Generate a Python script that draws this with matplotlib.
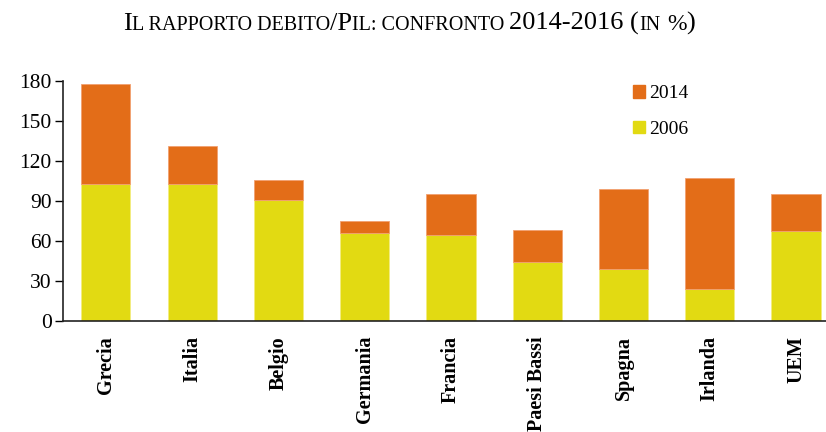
import matplotlib
matplotlib.use("Agg")
import matplotlib.pyplot as plt
from matplotlib.patches import Patch

countries = ["Grecia", "Italia", "Belgio", "Germania", "Francia", "Paesi Bassi", "Spagna", "Irlanda", "UEM"]
debt_2006 = [103, 102.5, 91, 66, 64, 44, 38.5, 23.5, 67.5]
debt_2014 = [178, 131.5, 106, 75, 95.5, 68, 99, 107, 95.5]
yticks = [0, 30, 60, 90, 120, 150, 180]

c2014 = "#E36D18"
c2006 = "#E2DA12"
serif = "Liberation Serif"

fig = plt.figure(figsize=(8.26, 4.32), dpi=100)
ax = fig.add_axes([0.0759, 0.2576, 0.94, 0.555])

x = list(range(len(countries)))
top_part = [t - b for t, b in zip(debt_2014, debt_2006)]
ax.bar(x, debt_2006, width=0.57, color=c2006, edgecolor="#F3EC80", linewidth=0.6, zorder=2)
ax.bar(x, top_part, bottom=debt_2006, width=0.57, color=c2014, edgecolor="#F2A070", linewidth=0.6, zorder=2)

ax.set_xlim(-0.5, len(countries) - 0.5)
ax.set_ylim(0, 180)
ax.set_yticks(yticks)
ax.set_yticklabels([str(v) for v in yticks], fontfamily=serif, fontsize=15.5)
ax.set_xticks(x)
ax.set_xticklabels(countries, rotation=90, fontfamily=serif, fontsize=14.5, fontweight="bold", va="top")
ax.tick_params(axis="x", length=0, pad=11)
ax.tick_params(axis="y", length=6, width=1.0, pad=2, direction="out")
for s in ["top", "right"]:
    ax.spines[s].set_visible(False)
for s in ["left", "bottom"]:
    ax.spines[s].set_linewidth(1.2)
    ax.spines[s].set_color("#222222")

handles = [Patch(facecolor=c2014, edgecolor=c2014), Patch(facecolor=c2006, edgecolor=c2006)]
fig.legend(handles, ["2014", "2006"], loc="upper left", bbox_to_anchor=(0.745, 0.843),
           frameon=False, prop={"family": serif, "size": 14}, handlelength=0.6, handleheight=0.6,
           handletextpad=0.25, labelspacing=0.96)

# Small-caps title
segments = [("I", 19), ("L RAPPORTO DEBITO", 14.5), ("/P", 19), ("IL: CONFRONTO ", 14.5),
            ("2014-2016 (", 19), ("IN", 14.5), (" ", 19), ("%", 17), (")", 19)]
renderer = fig.canvas.get_renderer()
texts = []
widths = []
for s, size in segments:
    t = fig.text(0, 0, s, fontfamily=serif, fontsize=size, va="baseline", ha="left")
    bb = t.get_window_extent(renderer=renderer)
    texts.append(t)
    widths.append(bb.width)
total = sum(widths)
cx = 409
xpos = cx - total / 2
baseline = 432 - 30
for t, w in zip(texts, widths):
    t.set_position((xpos / 826, baseline / 432))
    xpos += w

fig.savefig("out.png", dpi=100)
